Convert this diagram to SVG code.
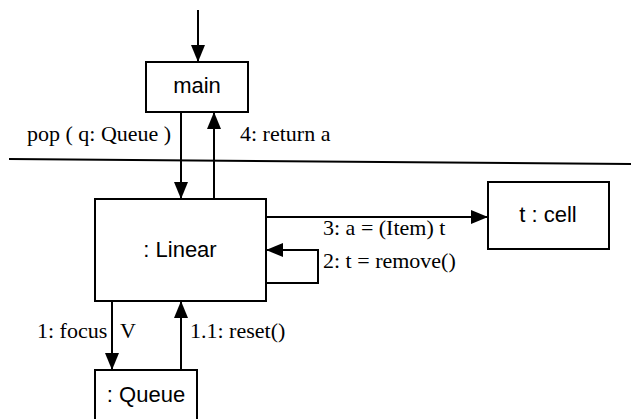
<svg xmlns="http://www.w3.org/2000/svg" width="631" height="419" viewBox="0 0 631 419">
<defs>
<marker id="ah" markerUnits="userSpaceOnUse" markerWidth="18" markerHeight="16" refX="17" refY="7" orient="auto">
<path d="M0,0 L17,7 L0,14 Z" fill="#000"/>
</marker>
<style>
.box{fill:#fff;stroke:#000;stroke-width:2}
.c{fill:none;stroke:#000;stroke-width:2}
.n{font-family:"Liberation Sans",Arial,sans-serif;font-size:22px;text-anchor:middle;fill:#000}
.l{font-family:"Liberation Serif","Times New Roman",serif;font-size:22px;fill:#000}
</style>
</defs>
<rect width="631" height="419" fill="#fff"/>
<line x1="9" y1="159" x2="631" y2="164" stroke="#000" stroke-width="2"/>
<g id="connectors">
<path class="c" d="M198,10 L198,62" marker-end="url(#ah)"/>
<path class="c" d="M181,112 L181,199" marker-end="url(#ah)"/>
<path class="c" d="M214,199 L214,112" marker-end="url(#ah)"/>
<path class="c" d="M266,217 L488,217" marker-end="url(#ah)"/>
<path class="c" d="M266,283 L318,283 L318,250 L266,250" marker-end="url(#ah)"/>
<path class="c" d="M112,301 L112,370" marker-end="url(#ah)"/>
<path class="c" d="M181,370 L181,301" marker-end="url(#ah)"/>
<text class="l" x="27" y="141">pop ( q: Queue )</text>
<text class="l" x="240" y="141">4: return a</text>
<text class="l" x="323" y="235">3: a = (Item) t</text>
<text class="l" x="323" y="268">2: t = remove()</text>
<text class="l" x="37" y="338">1: focus</text>
<text class="l" x="120" y="338">V</text>
<text class="l" x="190" y="338">1.1: reset()</text>
</g>
<g id="main">
<rect class="box" x="146" y="62" width="102" height="50"/>
<text class="n" x="197" y="93">main</text>
</g>
<g id="linear">
<rect class="box" x="95" y="199" width="171" height="102"/>
<text class="n" x="180" y="257">: Linear</text>
</g>
<g id="cell">
<rect class="box" x="488" y="182" width="121" height="67"/>
<text class="n" x="548" y="222">t : cell</text>
</g>
<g id="queue">
<rect class="box" x="95" y="370" width="102" height="60"/>
<text class="n" x="146" y="402">: Queue</text>
</g>
</svg>
